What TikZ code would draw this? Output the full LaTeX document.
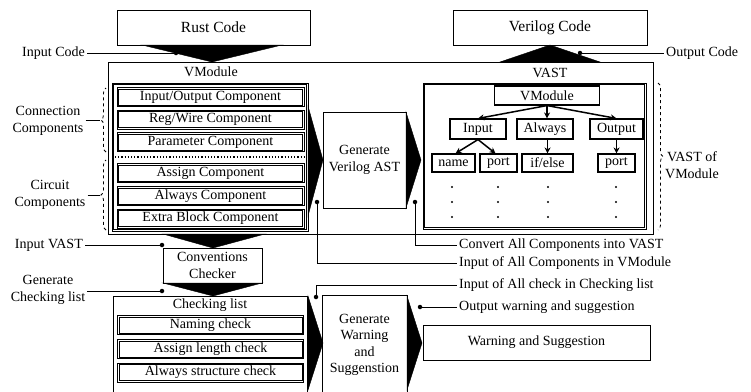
\documentclass[tikz,border=0pt]{standalone}
\usepackage{fontspec}
\setmainfont{Liberation Serif}
\usetikzlibrary{decorations.pathreplacing,arrows.meta,calc}
\begin{document}
\begin{tikzpicture}[x=1pt,y=-1pt,
  font=\fontsize{14}{17}\selectfont,
  box/.style={draw, line width=0.9pt, inner sep=0},
  dbox/.style={draw, line width=0.6pt, inner sep=0},
  tbox/.style={draw, line width=1.1pt, inner sep=0},
  wedge/.style={fill=black, draw=black, line join=miter},
  wire/.style={line width=0.9pt},
  dotn/.style={circle, fill=black, inner sep=0, minimum size=4.5pt},
  lbl/.style={inner sep=2pt, align=center},
  tarrow/.style={-{Stealth[length=6pt,width=6pt]}, line width=1.5pt},
  brc/.style={decorate, decoration={brace, amplitude=5pt}, dashed, line width=0.8pt},
  inner/.style={line width=0.6pt}
]
\useasboundingbox (0,0) rectangle (751,391);

% top boxes
\node[box, minimum width=193, minimum height=35, font=\fontsize{15.5}{18}\selectfont] (rust) at (213.5,27.5) {Rust Code};
\node[box, minimum width=194, minimum height=35, font=\fontsize{15.5}{18}\selectfont] (veri) at (550,27.5) {Verilog Code};

% outer container
\node[box, minimum width=545, minimum height=172] (outer) at (380.5,148) {};
\node[inner sep=0] (vmlbl) at (211,72) {VModule};
\node[inner sep=0] (vastlbl) at (550,73) {VAST};

% wedges top
\fill[wedge] (142,45) -- (212,62) -- (282,45) -- cycle;
\fill[wedge] (500,62) -- (550,45) -- (600,62) -- cycle;

% VModule container
\node[dbox, minimum width=196, minimum height=148] (vmod) at (210,157) {};
\node[dbox, minimum width=187, minimum height=19] (io) at (210.5,97) {Input/Output Component};
\node[dbox, minimum width=187, minimum height=19] (rw) at (210.5,119.5) {Reg/Wire Component};
\node[dbox, minimum width=187, minimum height=19] (par) at (210.5,142) {Parameter Component};
\draw[dotted, line width=1.2pt] (115,157) -- (306,157);
\node[dbox, minimum width=187, minimum height=19] (asg) at (210.5,173) {Assign Component};
\node[dbox, minimum width=187, minimum height=19] (alw) at (210.5,196) {Always Component};
\node[dbox, minimum width=187, minimum height=19] (ext) at (210.5,218.5) {Extra Block Component};

% Generate Verilog AST
\node[box, minimum width=83, minimum height=96, align=center] (gast) at (364.5,160) {Generate\\Verilog AST};
\fill[wedge] (308,106) -- (323,160) -- (308,216) -- cycle;
\fill[wedge] (406,112) -- (421,160) -- (406,208) -- cycle;

% VAST container and tree
\node[dbox, minimum width=223, minimum height=146] (vast) at (534.5,156) {};
\node[tbox, minimum width=105, minimum height=19] (tvm) at (547,95.5) {VModule};
\node[tbox, minimum width=56, minimum height=20] (tin) at (478,129) {Input};
\node[tbox, minimum width=56, minimum height=20] (tal) at (545,129) {Always};
\node[tbox, minimum width=53, minimum height=20] (tout) at (616.5,129) {Output};
\node[tbox, minimum width=43, minimum height=18] (tname) at (453.5,163) {name};
\node[tbox, minimum width=37, minimum height=18] (tp1) at (498.5,163) {port};
\node[tbox, minimum width=51, minimum height=18] (tif) at (547.5,163) {if/else};
\node[tbox, minimum width=37, minimum height=18] (tp2) at (616.5,163) {port};
\draw[tarrow] (tvm.south) -- (tin.north);
\draw[tarrow] (tvm.south) -- (tal.north -| tvm.south);
\draw[tarrow] (tvm.south) -- (tout.north);
\draw[tarrow] (tin.south) -- ($(tname.north)+(2,0)$);
\draw[tarrow] (tin.south) -- ($(tp1.north)+(-3,0)$);
\draw[tarrow] (tal.south -| tif.north) -- (tif.north);
\draw[tarrow] (tout.south) -- (tp2.north);
\foreach \xx in {452,498,548,616}
  \foreach \yy in {187,202,217}
    \fill (\xx,\yy) circle (1.1pt);

% braces
\draw[brc] (106,152) -- (106,88);
\draw[brc] (106,230) -- (106,160);
\draw[brc] (658,83) -- (658,230);

% left labels
\node[lbl, anchor=east] (linc) at (87,53) {Input Code};
\node[dotn] (dinc) at (176,53) {};
\draw[wire] (linc.east) -- (dinc);
\node[lbl] (lconn) at (48,121) {Connection\\Components};
\coordinate (bconn) at (100,120);
\draw[wire] (lconn.east |- bconn) -- (bconn);
\node[lbl] (lcirc) at (50,195) {Circuit\\Components};
\coordinate (bcirc) at (100,195);
\draw[wire] (lcirc.east |- bcirc) -- (bcirc);
\node[lbl, anchor=east] (lvast) at (85,245) {Input VAST};
\node[dotn] (dvast) at (162,245) {};
\draw[wire] (lvast.east) -- (dvast);
\node[lbl] (lgen) at (48,290) {Generate\\Checking list};
\node[dotn] (dgen) at (162,291) {};
\draw[wire] (lgen.east |- dgen) -- (dgen);

% right labels
\node[dotn] (dout) at (580,53) {};
\node[lbl, anchor=west] (lout) at (664,53) {Output Code};
\draw[wire] (dout) -- (lout.west);
\node[lbl] (lvm) at (692,165) {VAST of\\VModule};

% lower flow
\fill[wedge] (163,234) -- (213,248) -- (265,234) -- cycle;
\node[box, minimum width=99, minimum height=35, align=center] (conv) at (212.5,265.5) {Conventions\\Checker};
\fill[wedge] (163,283) -- (213,296) -- (262,283) -- cycle;

\node[box, minimum width=194, minimum height=110] (chk) at (210,351) {};
\node[inner sep=0] (chklbl) at (210,305) {Checking list};
\node[dbox, minimum width=186, minimum height=19] (nam) at (210.5,325) {Naming check};
\node[dbox, minimum width=186, minimum height=19] (alc) at (210.5,349) {Assign length check};
\node[dbox, minimum width=186, minimum height=19] (asc) at (210.5,372.5) {Always structure check};

% inner lines of the double-lined boxes
\foreach \n in {vmod,io,rw,par,asg,alw,ext,vast,nam,alc,asc}
  \draw[inner] ($(\n.south west)+(1.7pt,1.7pt)$) rectangle ($(\n.north east)+(-1.7pt,-1.7pt)$);

\fill[wedge] (308,296) -- (323,343) -- (308,390) -- cycle;
\node[box, minimum width=85, minimum height=110] (gw) at (364.5,350) {};
\node[inner sep=0, align=center, font=\fontsize{14}{16.5}\selectfont] (gwt) at (364.5,345) {Generate\\Warning\\and\\Suggenstion};
\fill[wedge] (407,296) -- (422,343) -- (407,390) -- cycle;
\node[box, minimum width=227, minimum height=35] (ws) at (536.5,342.5) {Warning and Suggestion};

% wires to right labels
\node[lbl, anchor=west] (lconv) at (457,245) {Convert All Components into VAST};
\node[lbl, anchor=west] (linall) at (457,263) {Input of All Components in VModule};
\node[lbl, anchor=west] (linchk) at (457,285) {Input of All check in Checking list};
\node[lbl, anchor=west] (lwarn) at (457,307) {Output warning and suggestion};
\node[dotn] (dconv) at (415,202) {};
\node[dotn] (dinall) at (317,202) {};
\node[dotn] (dinchk) at (316,297) {};
\node[dotn] (dwarn) at (420,307) {};
\draw[wire] (dconv) |- (lconv.west);
\draw[wire] (dinall) |- (linall.west);
\draw[wire] (dinchk) |- (linchk.west);
\draw[wire] (dwarn) -- (lwarn.west);
\end{tikzpicture}
\end{document}
